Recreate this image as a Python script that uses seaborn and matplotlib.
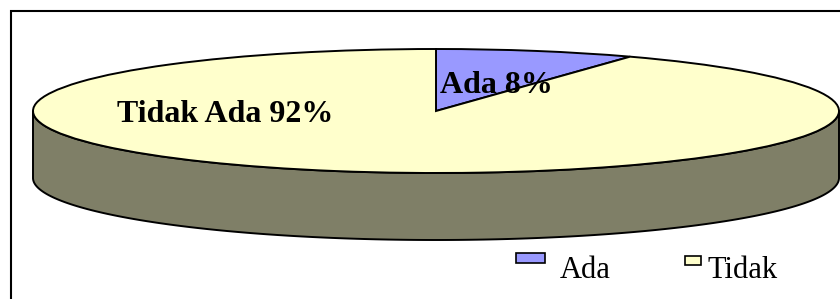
import numpy as np
import matplotlib
matplotlib.use("Agg")
import matplotlib.pyplot as plt
from matplotlib.patches import Rectangle
from matplotlib.legend_handler import HandlerPatch
import seaborn as sns

# data
categories = ["Ada", "Tidak"]
slice_labels = ["Ada", "Tidak Ada"]
percent = [8, 92]
colors = ["#9999FF", "#FFFFCC"]
side_color = "#7F7F67"

sns.set_theme(style="white")
plt.rcParams["font.family"] = ["Liberation Serif", "DejaVu Serif"]
plt.rcParams["text.color"] = "black"

W, H = 840, 299
fig = plt.figure(figsize=(W / 100, H / 100), dpi=100)
fig.patch.set_facecolor("white")
ax = fig.add_axes([0, 0, 1, 1])

# pie geometry in pixels: centre, semi axes, depth of the 3d side
cx, cy, a, b, depth = 436, 111, 403, 62, 67
d = depth / b

# 3d side (front half of the disc)
t = np.linspace(np.pi, 2 * np.pi, 200)
xs = np.concatenate([np.cos(t), np.cos(t[::-1])])
ys = np.concatenate([np.sin(t), np.sin(t[::-1]) - d])
ax.fill(xs, ys, facecolor=side_color, edgecolor="black", linewidth=1.4, zorder=1)

wedges, _ = ax.pie(percent, colors=colors, startangle=90, counterclock=False,
                   wedgeprops=dict(edgecolor="black", linewidth=1.4))
for w in wedges:
    w.set_zorder(2)

ax.set_aspect("auto")
ax.set_xlim(-cx / a, (W - cx) / a)
ax.set_ylim(-(H - cy) / b, cy / b)
ax.set_axis_off()

# slice labels
fig.text(117 / W, 1 - 122 / H, f"{slice_labels[1]} {percent[1]}%", fontsize=23,
         fontweight="bold", va="baseline", ha="left", color="black")
fig.text(440 / W, 1 - 93 / H, f"{slice_labels[0]} {percent[0]}%", fontsize=23,
         fontweight="bold", va="baseline", ha="left", color="black")

# chart border (left and top visible)
fig.add_artist(Rectangle((11 / W, -0.2), 1.2, 1.2 - 11 / H, transform=fig.transFigure,
                         fill=False, edgecolor="black", linewidth=1.5))

px = 0.72  # points per pixel


def ada_key(legend, orig_handle, xdescent, ydescent, width, height, fontsize):
    return Rectangle((-xdescent, -ydescent + height / 2 + 5 * px), 29 * px, 10 * px)


def tidak_key(legend, orig_handle, xdescent, ydescent, width, height, fontsize):
    return Rectangle((-xdescent + width - 16 * px, -ydescent + height / 2 + 2.5 * px),
                     16 * px, 9 * px)


handles = [Rectangle((0, 0), 1, 1, facecolor=c, edgecolor="black", linewidth=1.2)
           for c in colors]
fig.legend(handles, categories, ncol=2, loc="center", bbox_to_anchor=(647 / W, 1 - 271 / H),
           frameon=False, fontsize=22, handlelength=1.2, handleheight=0.7,
           handletextpad=0.23, columnspacing=1.75,
           handler_map={handles[0]: HandlerPatch(patch_func=ada_key),
                        handles[1]: HandlerPatch(patch_func=tidak_key)})

fig.savefig("out.png", dpi=100)
